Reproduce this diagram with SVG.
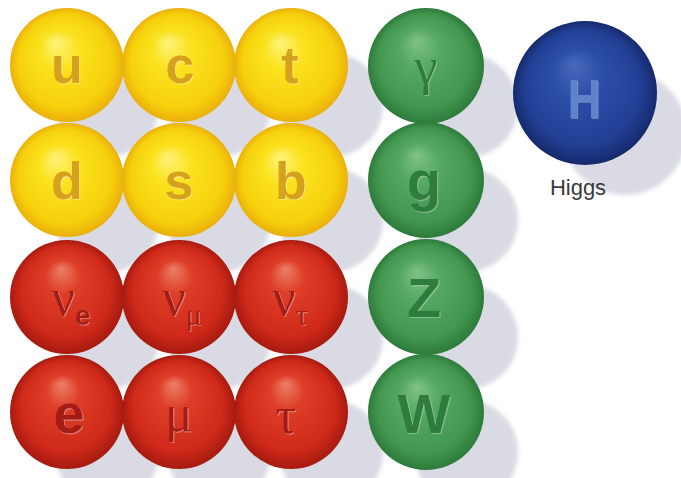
<svg xmlns="http://www.w3.org/2000/svg" width="681" height="478" viewBox="0 0 681 478">
<defs>
<radialGradient id="gy" cx="0.5" cy="0.5" r="0.5" fx="0.4" fy="0.3">
<stop offset="0" stop-color="#fff27c"/><stop offset="0.35" stop-color="#fbe21e"/><stop offset="0.82" stop-color="#f6d00c"/><stop offset="1" stop-color="#ebb00c"/>
</radialGradient>
<radialGradient id="gr" cx="0.5" cy="0.5" r="0.5" fx="0.45" fy="0.25">
<stop offset="0" stop-color="#ec8068"/><stop offset="0.3" stop-color="#de3e28"/><stop offset="0.78" stop-color="#d02a1a"/><stop offset="1" stop-color="#a81a10"/>
</radialGradient>
<radialGradient id="gg" cx="0.5" cy="0.5" r="0.5" fx="0.42" fy="0.28">
<stop offset="0" stop-color="#80c285"/><stop offset="0.35" stop-color="#55a862"/><stop offset="0.8" stop-color="#42964f"/><stop offset="1" stop-color="#2d7b3b"/>
</radialGradient>
<radialGradient id="gb" cx="0.5" cy="0.5" r="0.5" fx="0.42" fy="0.3">
<stop offset="0" stop-color="#4869bb"/><stop offset="0.35" stop-color="#2c4ea8"/><stop offset="0.8" stop-color="#223f95"/><stop offset="1" stop-color="#16296c"/>
</radialGradient>
<filter id="blur" x="-20%" y="-20%" width="140%" height="140%"><feGaussianBlur stdDeviation="2"/></filter>
<filter id="emb" x="-20%" y="-20%" width="140%" height="140%">
<feOffset in="SourceAlpha" dx="1" dy="1" result="o"/>
<feFlood flood-color="#ffffff" flood-opacity="0.3"/>
<feComposite in2="o" operator="in" result="hl"/>
<feMerge><feMergeNode in="hl"/><feMergeNode in="SourceGraphic"/></feMerge>
</filter>
</defs>
<style>
.sh{fill:#d9dae3}
.y{fill:url(#gy)}
.r{fill:url(#gr)}
.g{fill:url(#gg)}
.b{fill:url(#gb)}
.lb{font-family:"Liberation Sans",Arial,sans-serif;font-weight:bold;font-size:56px;text-anchor:middle;filter:url(#emb)}
.ly{font-size:52px}
.ls{font-family:"Liberation Serif","Times New Roman",serif;font-size:52px;text-anchor:middle;filter:url(#emb)}
.ty{fill:#d6a11e}
.tr{fill:#a51d14}
.tg{fill:#2f7d3c}
.th{fill:#5f83c8}
.sub{font-family:"Liberation Sans",Arial,sans-serif;font-weight:bold;font-size:28px}
.subs{font-family:"Liberation Serif","Times New Roman",serif;font-size:30px}
.cap{font-family:"Liberation Sans",Arial,sans-serif;font-size:22px;fill:#3a3a3a;text-anchor:middle}
</style>
<rect width="681" height="478" fill="#ffffff"/>
<g id="shadows" filter="url(#blur)">
<circle class="sh" cx="107" cy="105" r="52"/><circle class="sh" cx="219" cy="105" r="52"/><circle class="sh" cx="331" cy="105" r="52"/>
<circle class="sh" cx="107" cy="220" r="52"/><circle class="sh" cx="219" cy="220" r="52"/><circle class="sh" cx="331" cy="220" r="52"/>
<circle class="sh" cx="107" cy="337" r="52"/><circle class="sh" cx="219" cy="337" r="52"/><circle class="sh" cx="331" cy="337" r="52"/>
<circle class="sh" cx="107" cy="452" r="52"/><circle class="sh" cx="219" cy="452" r="52"/><circle class="sh" cx="331" cy="452" r="52"/>
<circle class="sh" cx="466" cy="106" r="52"/><circle class="sh" cx="466" cy="220" r="52"/><circle class="sh" cx="466" cy="337" r="52"/><circle class="sh" cx="466" cy="452" r="52"/>
<circle class="sh" cx="625" cy="133" r="62"/>
</g>
<g id="connectors"/>
<g id="u"><circle class="y" cx="67" cy="65" r="57"/><text class="lb ly ty" x="67" y="83">u</text></g>
<g id="c"><circle class="y" cx="179" cy="65" r="57"/><text class="lb ly ty" x="180" y="83">c</text></g>
<g id="t"><circle class="y" cx="291" cy="65" r="57"/><text class="lb ly ty" x="290" y="83">t</text></g>
<g id="d"><circle class="y" cx="67" cy="180" r="57"/><text class="lb ly ty" x="67" y="199">d</text></g>
<g id="s"><circle class="y" cx="179" cy="180" r="57"/><text class="lb ly ty" x="179" y="199">s</text></g>
<g id="b"><circle class="y" cx="291" cy="180" r="57"/><text class="lb ly ty" x="291" y="199">b</text></g>
<g id="nu_e"><circle class="r" cx="67" cy="297" r="57"/><text class="ls tr" x="71" y="315">ν<tspan class="sub" dy="10">e</tspan></text></g>
<g id="nu_mu"><circle class="r" cx="179" cy="297" r="57"/><text class="ls tr" x="182" y="315">ν<tspan class="subs" dy="10">μ</tspan></text></g>
<g id="nu_tau"><circle class="r" cx="291" cy="297" r="57"/><text class="ls tr" x="290" y="315">ν<tspan class="subs" dy="10">τ</tspan></text></g>
<g id="e"><circle class="r" cx="67" cy="412" r="57"/><text class="lb tr" x="69" y="433">e</text></g>
<g id="mu"><circle class="r" cx="179" cy="412" r="57"/><text class="ls tr" x="179" y="431">μ</text></g>
<g id="tau"><circle class="r" cx="291" cy="412" r="57"/><text class="ls tr" x="286" y="433">τ</text></g>
<g id="gamma"><circle class="g" cx="426" cy="66" r="58"/><text class="ls tg" x="426" y="84" font-size="58">γ</text></g>
<g id="gluon"><circle class="g" cx="426" cy="180" r="58"/><text class="lb tg" x="424" y="200">g</text></g>
<g id="Z"><circle class="g" cx="426" cy="297" r="58"/><text class="lb tg" x="424" y="317">Z</text></g>
<g id="W"><circle class="g" cx="426" cy="412" r="58"/><text class="lb tg" x="424" y="433">W</text></g>
<g id="Higgs"><circle class="b" cx="585" cy="93" r="72"/><text class="lb th" transform="translate(584,118) scale(0.82,1)" x="0" y="0" font-size="62">H</text><text class="cap" x="578" y="195">Higgs</text></g>
</svg>
